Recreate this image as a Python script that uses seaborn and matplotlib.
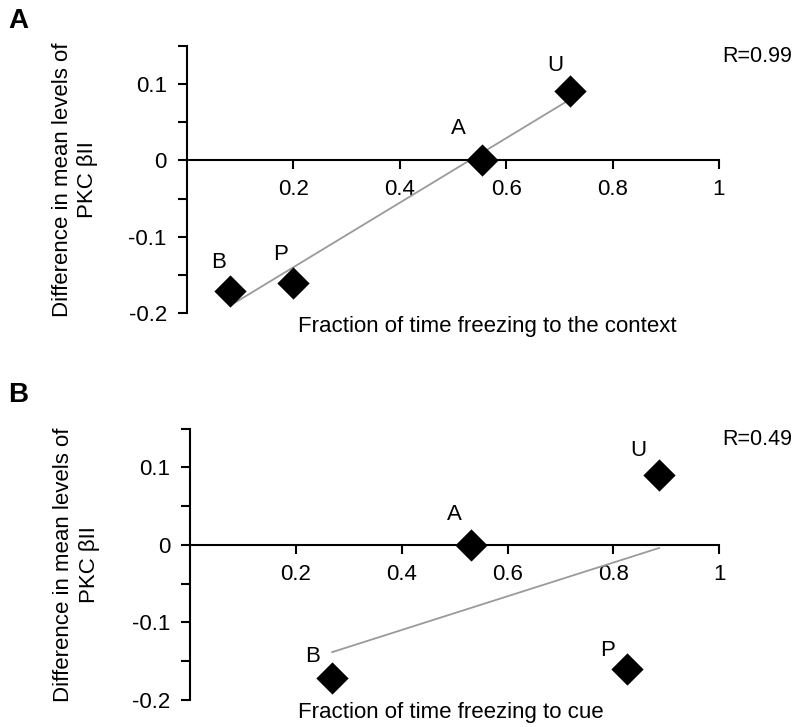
import matplotlib
matplotlib.use("Agg")
import matplotlib.pyplot as plt
import seaborn as sns
import pandas as pd

# Style
sns.set_style("white")
plt.rcParams["font.family"] = ["Liberation Sans", "DejaVu Sans"]
plt.rcParams["axes.unicode_minus"] = False
plt.rcParams["text.color"] = "black"
plt.rcParams["xtick.color"] = "black"
plt.rcParams["ytick.color"] = "black"

# -------------------------------
# Data
# -------------------------------
groups = ["B", "P", "A", "U"]
pkc_diff = [-0.171, -0.160, 0.0, 0.090]
freeze_context = [0.081, 0.200, 0.554, 0.719]
freeze_cue = [0.268, 0.825, 0.530, 0.887]
r_context = "R=0.99"
r_cue = "R=0.49"

xtick_vals = [0.2, 0.4, 0.6, 0.8, 1.0]
xtick_text = ["0.2", "0.4", "0.6", "0.8", "1"]
ytick_vals = [-0.2, -0.15, -0.1, -0.05, 0.0, 0.05, 0.1, 0.15]
ytick_text = ["-0.2", "", "-0.1", "", "0", "", "0.1", ""]

ylabel = "Difference in mean levels of\nPKC \u03b2II"

# label offsets (pixels) for the point letters in each panel
offsets_a = [(-12, 29), (-13, 28), (-23, 32), (-14, 26)]
offsets_b = [(-19, 21), (-19, 19), (-16, 30), (-21, 25)]

df_a = pd.DataFrame({"group": groups, "x": freeze_context, "y": pkc_diff})
df_b = pd.DataFrame({"group": groups, "x": freeze_cue, "y": pkc_diff})

FS = 16
fig = plt.figure(figsize=(8, 7.27), dpi=100)


def draw_panel(ax, df, offsets, xlabel, xlabel_x, xlabel_y, ylabel_x):
    sns.regplot(data=df, x="x", y="y", ax=ax, scatter=False, ci=None,
                color="#9a9a9a", line_kws={"lw": 1.3})
    sns.scatterplot(data=df, x="x", y="y", ax=ax, marker="D", s=270,
                    color="black", edgecolor="black", linewidth=0,
                    clip_on=False, zorder=3)
    for g, x, y, off in zip(df["group"], df["x"], df["y"], offsets):
        ax.annotate(g, (x, y), xytext=off, textcoords="offset pixels",
                    ha="center", va="center", fontsize=FS)

    ax.set_xlim(0, 1)
    ax.set_ylim(-0.2, 0.15)
    ax.spines["top"].set_visible(False)
    ax.spines["right"].set_visible(False)
    ax.spines["bottom"].set_position(("data", 0))
    for s in ["left", "bottom"]:
        ax.spines[s].set_linewidth(1.5)
        ax.spines[s].set_color("black")
    ax.set_xticks(xtick_vals)
    ax.set_xticklabels(xtick_text)
    ax.set_yticks(ytick_vals)
    ax.set_yticklabels(ytick_text)
    ax.tick_params(axis="x", bottom=True, direction="out", length=6.5,
                   width=1.5, pad=7, labelsize=FS)
    ax.tick_params(axis="y", left=True, direction="out", length=6.5,
                   width=1.5, pad=8, labelsize=FS)
    ax.set_xlabel("")
    ax.set_ylabel("")
    ax.text(xlabel_x, xlabel_y, xlabel, transform=ax.transAxes,
            ha="left", va="baseline", fontsize=FS)
    ax.text(ylabel_x, 0.5, ylabel, transform=ax.transAxes, rotation=90,
            ha="center", va="center", multialignment="center",
            fontsize=FS, linespacing=1.3)


# -------------------------------
# Panel A: context
# -------------------------------
ax_a = fig.add_axes([0.23375, 0.569, 0.665, 0.3684])
draw_panel(ax_a, df_a, offsets_a, "Fraction of time freezing to the context",
           0.209, -0.071, -0.2105)

# -------------------------------
# Panel B: cue
# -------------------------------
ax_b = fig.add_axes([0.2378, 0.0371, 0.661, 0.3734])
draw_panel(ax_b, df_b, offsets_b, "Fraction of time freezing to cue",
           0.204, -0.066, -0.2155)

# Panel letters and R values
fig.text(8 / 800, 1 - 8 / 727, "A", ha="left", va="top",
         fontsize=20, fontweight="bold")
fig.text(8 / 800, 1 - 382 / 727, "B", ha="left", va="top",
         fontsize=20, fontweight="bold")
fig.text(722 / 800, 1 - 62 / 727, r_context, ha="left", va="baseline",
         fontsize=15.5)
fig.text(722 / 800, 1 - 445 / 727, r_cue, ha="left", va="baseline",
         fontsize=15.5)

fig.savefig("out.png", dpi=100)
plt.close(fig)
